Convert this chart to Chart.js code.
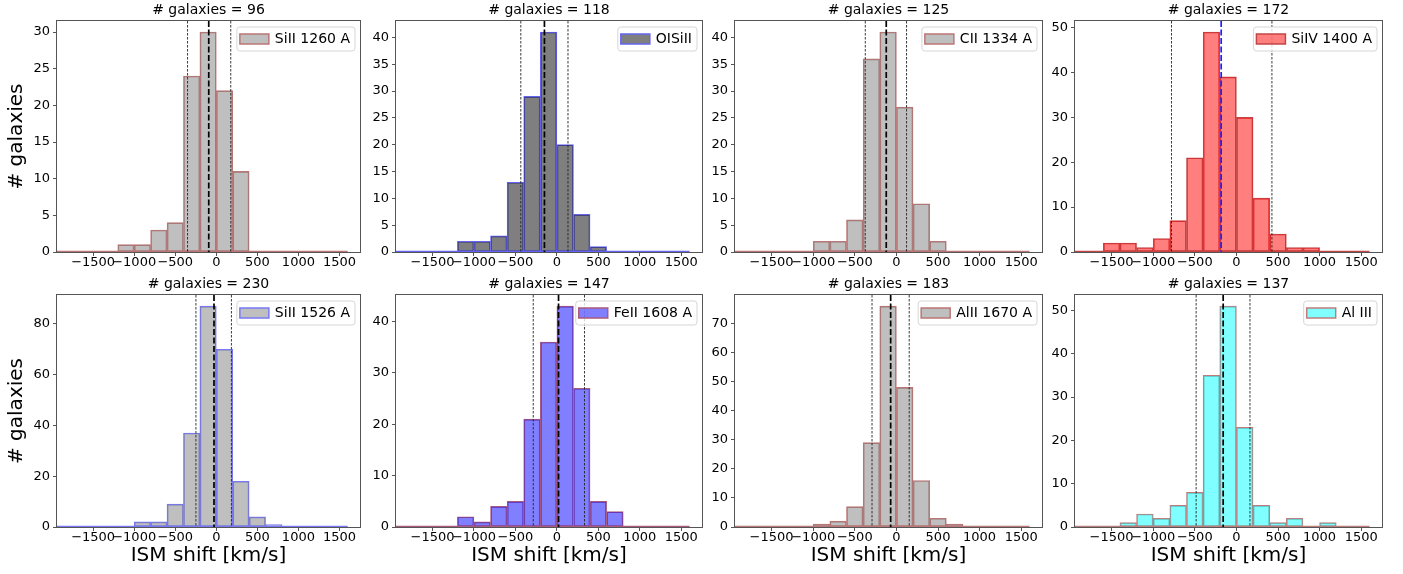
<!DOCTYPE html>
<html>
<head>
<meta charset="utf-8">
<script src="https://cdn.jsdelivr.net/npm/chart.js@4.4.1/dist/chart.umd.min.js"></script>
<style>
  body { margin: 0; background: #fff; width: 1403px; height: 574px; position: relative; overflow: hidden; }
  canvas { position: absolute; }
</style>
</head>
<body>
<script>
// histogram bins: 200 km/s wide, first bin starts at -2000
const binCenters = [-1900, -1700, -1500, -1300, -1100, -900, -700, -500, -300, -100, 100, 300, 500, 700, 900, 1100, 1300, 1500];
const binFrom = -2000, binTo = 1600;
const xTicks = [-1500, -1000, -500, 0, 500, 1000, 1500];

const countsSiII1260 = [0, 0, 0, 0, 1, 1, 3, 4, 24, 30, 22, 11, 0, 0, 0, 0, 0, 0];
const countsOISiII   = [0, 0, 0, 0, 2, 2, 3, 13, 29, 41, 20, 7, 1, 0, 0, 0, 0, 0];
const countsCII1334  = [0, 0, 0, 0, 0, 2, 2, 6, 36, 41, 27, 9, 2, 0, 0, 0, 0, 0];
const countsSiIV1400 = [0, 0, 2, 2, 1, 3, 7, 21, 49, 39, 30, 12, 4, 1, 1, 0, 0, 0];
const countsSiII1526 = [0, 0, 0, 0, 0, 2, 2, 9, 37, 87, 70, 18, 4, 1, 0, 0, 0, 0];
const countsFeII1608 = [0, 0, 0, 0, 2, 1, 4, 5, 21, 36, 43, 27, 5, 3, 0, 0, 0, 0];
const countsAlII1670 = [0, 0, 0, 0, 0, 1, 2, 7, 29, 76, 48, 16, 3, 1, 0, 0, 0, 0];
const countsAlIII    = [0, 0, 0, 1, 3, 2, 5, 8, 35, 51, 23, 5, 1, 2, 0, 1, 0, 0];

// [lower, median, upper] shift lines
const shiftsSiII1260 = [-350, -92, 176];
const shiftsOISiII   = [-435, -150, 134];
const shiftsCII1334  = [-374, -122, 122];
const shiftsSiIV1400 = [-780, -183, 427];
const shiftsSiII1526 = [-248, -28, 184];
const shiftsFeII1608 = [-285, 20, 333];
const shiftsAlII1670 = [-293, -69, 154];
const shiftsAlIII    = [-484, -159, 163];

const yTicksSiII1260 = [0, 5, 10, 15, 20, 25, 30];
const yTicksOISiII   = [0, 5, 10, 15, 20, 25, 30, 35, 40];
const yTicksCII1334  = [0, 5, 10, 15, 20, 25, 30, 35, 40];
const yTicksSiIV1400 = [0, 10, 20, 30, 40, 50];
const yTicksSiII1526 = [0, 20, 40, 60, 80];
const yTicksFeII1608 = [0, 10, 20, 30, 40];
const yTicksAlII1670 = [0, 10, 20, 30, 40, 50, 60, 70];
const yTicksAlIII    = [0, 10, 20, 30, 40, 50];

const GRAY = 'rgba(128,128,128,0.5)';
const panels = [
  { label: 'SiII 1260 A', counts: countsSiII1260, shifts: shiftsSiII1260, yTicks: yTicksSiII1260, face: GRAY, edge: 'rgb(188,118,118)', med: '#000' },
  { label: 'OISiII', counts: countsOISiII, shifts: shiftsOISiII, yTicks: yTicksOISiII, face: 'rgba(0,0,0,0.5)', edge: 'rgb(100,100,240)', med: '#000' },
  { label: 'CII 1334 A', counts: countsCII1334, shifts: shiftsCII1334, yTicks: yTicksCII1334, face: GRAY, edge: 'rgb(188,118,118)', med: '#000' },
  { label: 'SiIV 1400 A', counts: countsSiIV1400, shifts: shiftsSiIV1400, yTicks: yTicksSiIV1400, face: 'rgba(255,0,0,0.5)', edge: 'rgb(195,70,70)', med: '#2020ff' },
  { label: 'SiII 1526 A', counts: countsSiII1526, shifts: shiftsSiII1526, yTicks: yTicksSiII1526, face: GRAY, edge: 'rgb(120,120,245)', med: '#000' },
  { label: 'FeII 1608 A', counts: countsFeII1608, shifts: shiftsFeII1608, yTicks: yTicksFeII1608, face: 'rgba(0,0,255,0.5)', edge: 'rgb(170,90,125)', med: '#000' },
  { label: 'AlII 1670 A', counts: countsAlII1670, shifts: shiftsAlII1670, yTicks: yTicksAlII1670, face: GRAY, edge: 'rgb(188,118,118)', med: '#000' },
  { label: 'Al III', counts: countsAlIII, shifts: shiftsAlIII, yTicks: yTicksAlIII, face: 'rgba(0,255,255,0.5)', edge: 'rgb(190,125,125)', med: '#000' }
];

// plot areas in page pixels
const cols = [[57, 360], [396, 702], [735, 1042], [1075, 1382]];
const rows = [[21, 252], [295, 527]];

Chart.defaults.font.family = '"DejaVu Sans", sans-serif';
Chart.defaults.color = '#000';

const fmt = v => (v < 0 ? '\u2212' + Math.abs(v) : String(v));

const histExtras = {
  id: 'histExtras',
  afterDatasetsDraw(chart, args, o) {
    const ctx = chart.ctx, a = chart.chartArea;
    const xs = chart.scales.x, ys = chart.scales.y;
    ctx.save();
    ctx.beginPath();
    ctx.rect(a.left, a.top, a.right - a.left, a.bottom - a.top);
    ctx.clip();
    // baseline of empty bins
    const y0 = ys.getPixelForValue(0);
    ctx.strokeStyle = o.edge;
    ctx.lineWidth = 1.3;
    ctx.beginPath();
    ctx.moveTo(xs.getPixelForValue(binFrom), y0 - 0.6);
    ctx.lineTo(xs.getPixelForValue(binTo), y0 - 0.6);
    ctx.stroke();
    // percentile / median lines
    o.shifts.forEach((v, i) => {
      const x = xs.getPixelForValue(v);
      ctx.beginPath();
      if (i === 1) {
        ctx.strokeStyle = o.med; ctx.lineWidth = 1.7; ctx.setLineDash([6, 2.5]);
      } else {
        ctx.strokeStyle = '#222'; ctx.lineWidth = 0.9; ctx.setLineDash([2.5, 1.5]);
      }
      ctx.moveTo(x, a.top);
      ctx.lineTo(x, a.bottom);
      ctx.stroke();
    });
    ctx.restore();
  },
  afterDraw(chart, args, o) {
    const ctx = chart.ctx, a = chart.chartArea;
    ctx.save();
    // frame
    ctx.strokeStyle = '#555';
    ctx.lineWidth = 1;
    ctx.strokeRect(a.left - 0.5, a.top - 0.5, a.right - a.left + 1, a.bottom - a.top + 1);
    // legend box
    ctx.font = '14px "DejaVu Sans"';
    const tw = ctx.measureText(o.label).width;
    const padL = 3, patchW = 29, patchH = 10, gap = 6, padR = 5, h = 24;
    const w = padL + patchW + gap + tw + padR;
    const x = a.right - 5 - w, y = a.top + 6;
    ctx.beginPath();
    ctx.roundRect(x, y, w, h, 3);
    ctx.fillStyle = 'rgba(255,255,255,0.8)';
    ctx.fill();
    ctx.strokeStyle = '#d6d6d6';
    ctx.stroke();
    const py = y + (h - patchH) / 2;
    ctx.fillStyle = o.face;
    ctx.fillRect(x + padL, py, patchW, patchH);
    ctx.strokeStyle = o.edge;
    ctx.lineWidth = 1.5;
    ctx.strokeRect(x + padL, py, patchW, patchH);
    ctx.fillStyle = '#000';
    ctx.textBaseline = 'middle';
    ctx.fillText(o.label, x + padL + patchW + gap, y + h / 2 + 0.5);
    ctx.restore();
  }
};

panels.forEach((p, k) => {
  const r = Math.floor(k / 4), c = k % 4;
  const yW = c === 0 ? 57 : 40;
  const titleH = 21;
  const left = cols[c][0] - yW;
  const top = rows[r][0] - titleH;
  const bottom = r === 0 ? 274 : 574;
  const xH = bottom - rows[r][1];
  const width = cols[c][1] + 4 - left;
  const height = bottom - top;

  const canvas = document.createElement('canvas');
  canvas.width = width;
  canvas.height = height;
  canvas.style.left = left + 'px';
  canvas.style.top = top + 'px';
  document.body.appendChild(canvas);

  const total = p.counts.reduce((s, v) => s + v, 0);
  const ymax = Math.max(...p.counts) * 1.05;

  new Chart(canvas.getContext('2d'), {
    type: 'bar',
    data: {
      datasets: [{
        label: p.label,
        data: binCenters.map((x, i) => ({ x: x, y: p.counts[i] })),
        backgroundColor: p.face,
        borderColor: p.edge,
        borderWidth: 1,
        borderSkipped: false,
        barPercentage: 1,
        categoryPercentage: 1
      }]
    },
    options: {
      responsive: false,
      devicePixelRatio: 1,
      animation: false,
      events: [],
      layout: { padding: { left: 0, right: 4, top: 0, bottom: 0 } },
      plugins: {
        legend: { display: false },
        tooltip: { enabled: false },
        title: {
          display: true,
          fullSize: false,
          text: '# galaxies = ' + total,
          font: { size: 14, weight: 'normal', lineHeight: 1 },
          color: '#000',
          padding: { top: 3, bottom: 4 }
        },
        histExtras: { shifts: p.shifts, med: p.med, edge: p.edge, face: p.face, label: p.label }
      },
      scales: {
        x: {
          type: 'linear',
          min: -1940,
          max: 1750,
          offset: false,
          grid: { offset: false, drawOnChartArea: false, tickLength: 4, color: '#555' },
          border: { display: false },
          ticks: { font: { size: 13, lineHeight: 1 }, color: '#000', padding: 0, maxRotation: 0, autoSkip: false, callback: v => fmt(v) },
          afterBuildTicks: s => { s.ticks = xTicks.map(v => ({ value: v })); },
          afterFit: s => { s.height = xH; },
          title: {
            display: r === 1,
            text: 'ISM shift [km/s]',
            font: { size: 20, lineHeight: 1 },
            color: '#000',
            padding: { top: 0, bottom: 8 }
          }
        },
        y: {
          type: 'linear',
          min: 0,
          max: ymax,
          grid: { drawOnChartArea: false, tickLength: 4, color: '#555' },
          border: { display: false },
          ticks: { font: { size: 13, lineHeight: 1 }, color: '#000', padding: 3, callback: v => fmt(v) },
          afterBuildTicks: s => { s.ticks = p.yTicks.map(v => ({ value: v })); },
          afterFit: s => { s.width = yW; },
          title: {
            display: c === 0,
            text: '# galaxies',
            font: { size: 20, lineHeight: 1 },
            color: '#000',
            padding: { top: 7, bottom: 0 }
          }
        }
      }
    },
    plugins: [histExtras]
  });
});
</script>
</body>
</html>
